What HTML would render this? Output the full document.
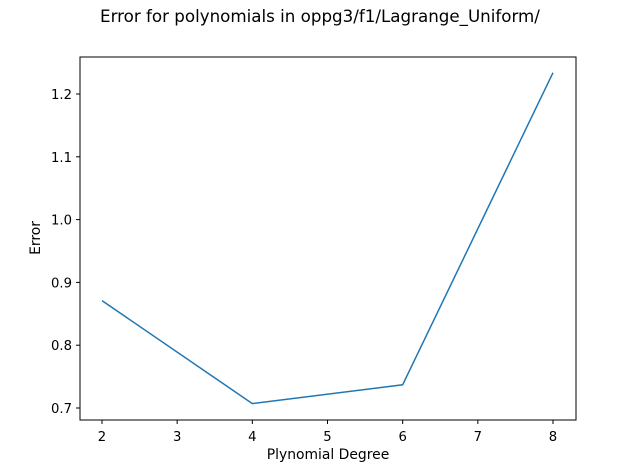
<!DOCTYPE html>
<html><head><meta charset="utf-8"><style>body{margin:0;background:#fff}svg{display:block;font-family:"DejaVu Sans","Liberation Sans",sans-serif}</style></head>
<body>
<svg id="chart" width="640" height="472" viewBox="0 0 640 472" xmlns="http://www.w3.org/2000/svg">
<text x="320" y="22" text-anchor="middle" font-size="16.7">Error for polynomials in oppg3/f1/Lagrange_Uniform/</text>
<rect x="80" y="57" width="496" height="363" fill="none" stroke="#000" stroke-width="1"/>
<g id="xt"></g>
<g id="yt"></g>
<text x="328" y="459" text-anchor="middle" font-size="13.9">Plynomial Degree</text>
<text transform="translate(40,238) rotate(-90)" text-anchor="middle" font-size="13.9">Error</text>
<polyline id="line" fill="none" stroke="#1f77b4" stroke-width="1.5"/>
</svg>
<script>
const degrees=[2,4,6,8];
const errors=[0.871,0.707,0.737,1.234];
const xTicks=[2,3,4,5,6,7,8];
const yTicks=[0.7,0.8,0.9,1.0,1.1,1.2];
const yTickLabels=["0.7","0.8","0.9","1.0","1.1","1.2"];
const NS="http://www.w3.org/2000/svg";
const xs=v=>102+(v-2)*(553-102)/6;
const ys=v=>408-(v-0.7)*628;
const xt=document.getElementById('xt'),yt=document.getElementById('yt');
function mk(t,a){const e=document.createElementNS(NS,t);for(const k in a)e.setAttribute(k,a[k]);return e;}
xTicks.forEach(v=>{const x=xs(v);
 const l=mk('line',{x1:x,x2:x,y1:420,y2:424,stroke:'#000'});
 
 
 xt.appendChild(l);
 const t=mk('text',{x:x,y:441,'text-anchor':'middle','font-size':'13.2'});t.textContent=v;
 
 
 xt.appendChild(t);});
yTicks.forEach((v,i)=>{const y=ys(v);
 const l=mk('line',{x1:76,x2:80,y1:y,y2:y,stroke:'#000'});
 
 
 yt.appendChild(l);
 const t=mk('text',{x:72,y:y+5,'text-anchor':'end','font-size':'13.2'});t.textContent=yTickLabels[i];
 
 
 yt.appendChild(t);});
document.getElementById('line').setAttribute('points',degrees.map((d,i)=>xs(d)+','+ys(errors[i])).join(' '));
</script>
</body></html>
